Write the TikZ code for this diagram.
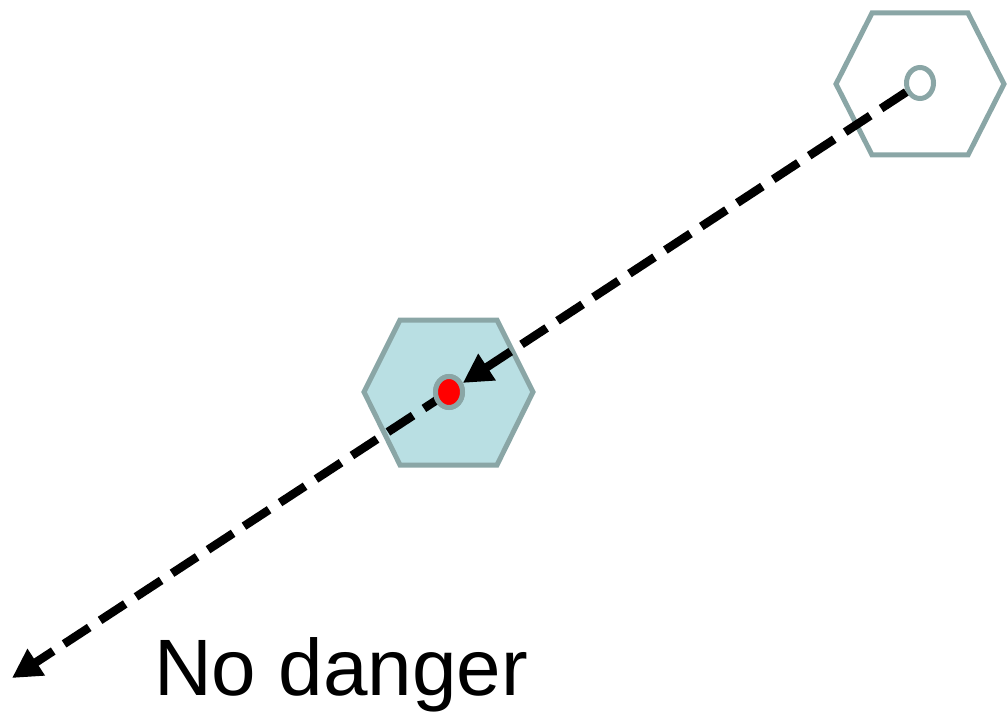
\documentclass[tikz,border=0pt]{standalone}
\usepackage{fontspec}
\setmainfont{Liberation Sans}
\usetikzlibrary{arrows.meta,shapes.geometric}
\definecolor{hexline}{RGB}{138,166,166}
\definecolor{hexfill}{RGB}{185,223,227}
\definecolor{dotred}{RGB}{255,0,0}
\tikzset{
  hexshape/.style={draw=hexline, line width=5pt, line join=miter},
  ringnode/.style={ellipse, draw=hexline, line width=5pt, minimum width=27pt, minimum height=31pt, inner sep=0pt},
  flight/.style={line width=8.5pt, dash pattern=on 30pt off 13pt, -{Triangle[length=29pt,width=30pt]}},
}
\begin{document}
\begin{tikzpicture}[x=1pt,y=-1pt]
\useasboundingbox (0,0) rectangle (1008,714);
% hexagons
\path[hexshape, fill=white] (872,13) -- (968,13) -- (1004,84) -- (968,155) -- (872,155) -- (836,84) -- cycle;
\path[hexshape, fill=hexfill] (400,320) -- (497,320) -- (533,392) -- (497,465) -- (400,465) -- (364,392) -- cycle;
% markers
\node[ringnode, fill=white] (src) at (920,83) {};
\node[ringnode, fill=dotred] (dot) at (449,392) {};
\coordinate (far) at (12,678);
% connectors
\draw[flight] (src) -- (dot);
\draw[flight] (dot.center) -- (far);
\node[ringnode, fill=dotred] at (dot) {};
% label
\node[anchor=base west, inner sep=0pt, font=\fontsize{80}{96}\selectfont] (lbl) at (154,695) {No danger};
\end{tikzpicture}
\end{document}
